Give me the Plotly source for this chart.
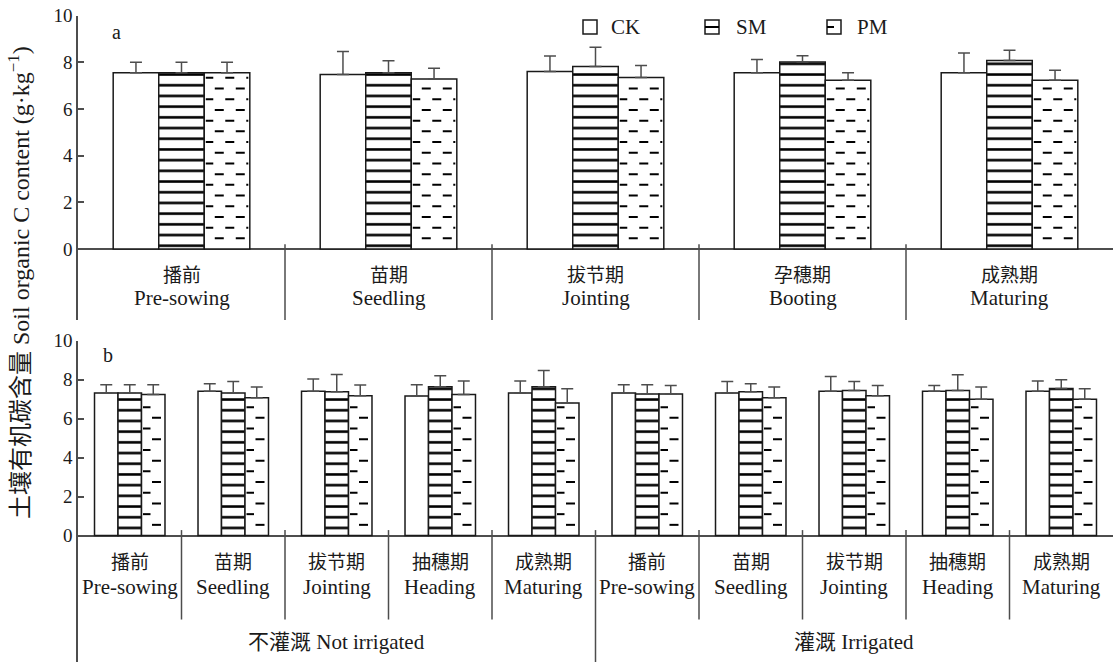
import plotly.graph_objects as go

# ---------------- data ----------------
top_cn = ["播前", "苗期", "拔节期", "孕穗期", "成熟期"]
top_en = ["Pre-sowing", "Seedling", "Jointing", "Booting", "Maturing"]
bot_cn = ["播前", "苗期", "拔节期", "抽穗期", "成熟期"] * 2
bot_en = ["Pre-sowing", "Seedling", "Jointing", "Heading", "Maturing"] * 2
treatments = ["CK", "SM", "PM"]
irrigation = ["不灌溉 Not irrigated", "灌溉 Irrigated"]

top_ck = [7.56, 7.48, 7.61, 7.55, 7.55]
top_ck_sd = [0.45, 0.99, 0.66, 0.57, 0.85]
top_sm = [7.56, 7.56, 7.82, 8.02, 8.08]
top_sm_sd = [0.44, 0.51, 0.83, 0.26, 0.44]
top_pm = [7.56, 7.29, 7.35, 7.23, 7.23]
top_pm_sd = [0.44, 0.46, 0.52, 0.33, 0.43]

bot_ck = [7.31, 7.40, 7.40, 7.16, 7.31, 7.31, 7.31, 7.40, 7.40, 7.40]
bot_ck_sd = [0.43, 0.39, 0.63, 0.58, 0.62, 0.43, 0.60, 0.76, 0.30, 0.53]
bot_sm = [7.31, 7.31, 7.38, 7.64, 7.64, 7.26, 7.38, 7.45, 7.45, 7.55]
bot_sm_sd = [0.43, 0.60, 0.89, 0.56, 0.83, 0.48, 0.41, 0.46, 0.80, 0.45]
bot_pm = [7.24, 7.07, 7.18, 7.24, 6.80, 7.26, 7.07, 7.18, 6.99, 6.99]
bot_pm_sd = [0.50, 0.55, 0.54, 0.69, 0.73, 0.44, 0.55, 0.52, 0.63, 0.54]

# ---------------- layout constants ----------------
W, H = 1113, 662
ML = 78
PW = W - ML
FONT = "Liberation Serif, 'Noto Sans CJK SC', serif"
INK = "#1a1a1a"
AXC = "#4d4d4d"

top_dom = [(H - 320) / H, (H - 15.7) / H]
top_rng = [-3.04, 10]
bot_dom = [0.0, (H - 340.7) / H]
bot_rng = [-6.49, 10]

fig = go.Figure()


def px_per_y(dom, rng):
    return (dom[1] - dom[0]) * H / (rng[1] - rng[0])


def panel(xa, ya, n, w, ck, cks, sm, sms, pm, pms, dom, rng):
    xs = list(range(n))
    series = [(ck, cks, ""), (sm, sms, "-"), (pm, pms, "")]
    for k, (vals, sds, shape) in enumerate(series):
        fig.add_trace(go.Bar(
            x=xs, y=vals, width=w, offset=-1.5 * w + k * w,
            xaxis=xa, yaxis=ya, name=treatments[k], showlegend=False,
            marker=dict(color="white", line=dict(color=INK, width=1.5),
                        pattern=dict(shape=shape, size=10.7, solidity=0.24,
                                     fgcolor="#000000", bgcolor="white",
                                     fgopacity=1)),
            error_y=dict(type="data", array=sds, arrayminus=[0] * n,
                         symmetric=False, color=AXC, thickness=1.5, width=6),
            hoverinfo="skip",
        ))
    # dashed-line fill for PM, computed from bar geometry
    pxx = PW / n
    pxy = px_per_y(dom, rng)
    sp = 10.7 / pxy
    period = 21 / pxx
    dash = 9 / pxx
    pad = 1.5 / pxx
    X, Y = [], []
    for i, v in enumerate(pm):
        xl = i + 0.5 * w
        xr = i + 1.5 * w
        r = 1
        while r * sp < v - 2.5 / pxy:
            yk = r * sp
            off = (r % 2) * period / 2
            s = xl + off - period
            while s < xr:
                a = max(s, xl + pad)
                b = min(s + dash, xr - pad)
                if b - a > 1 / pxx:
                    X += [a, b, None]
                    Y += [yk, yk, None]
                s += period
            r += 1
    fig.add_trace(go.Scatter(x=X, y=Y, mode="lines", xaxis=xa, yaxis=ya,
                             line=dict(color="#000000", width=2), showlegend=False,
                             hoverinfo="skip", connectgaps=False))


panel("x", "y", 5, 0.22, top_ck, top_ck_sd, top_sm, top_sm_sd, top_pm, top_pm_sd,
      top_dom, top_rng)
panel("x2", "y2", 10, 0.227, bot_ck, bot_ck_sd, bot_sm, bot_sm_sd, bot_pm, bot_pm_sd,
      bot_dom, bot_rng)

yax = dict(showline=True, linecolor=AXC, linewidth=1.5, ticks="inside",
           tickvals=[0, 2, 4, 6, 8, 10], ticklen=6, tickwidth=1.5, tickcolor=AXC,
           showgrid=False, zeroline=True, zerolinecolor=AXC, zerolinewidth=1.5,
           automargin=False,
           tickfont=dict(size=19, color=INK, family=FONT))
fig.update_layout(
    width=W, height=H, autosize=False,
    margin=dict(l=ML, r=0, t=0, b=0, pad=0),
    plot_bgcolor="white", paper_bgcolor="white",
    barmode="overlay",
    font=dict(family=FONT, size=19, color=INK),
    xaxis=dict(domain=[0, 1], range=[-0.5, 4.5], visible=False, anchor="y"),
    yaxis=dict(domain=top_dom, range=top_rng, anchor="x", **yax),
    xaxis2=dict(domain=[0, 1], range=[-0.5, 9.5], visible=False, anchor="y2"),
    yaxis2=dict(domain=bot_dom, range=bot_rng, anchor="x2", **yax),
    showlegend=False,
)


def pxx_(px):
    return (px - ML) / PW


def pyy_(py):
    return (H - py) / H


shapes = []
for i in range(4):
    shapes.append(dict(type="line", xref="x", yref="y", x0=i + 0.5, x1=i + 0.5,
                       y0=0.21, y1=top_rng[0], line=dict(color=AXC, width=1.5)))
for i in range(9):
    y1 = bot_rng[0] if i == 4 else -4.31
    shapes.append(dict(type="line", xref="x2", yref="y2", x0=i + 0.5, x1=i + 0.5,
                       y0=0.28, y1=y1, line=dict(color=AXC, width=1.5)))

# legend (drawn manually to mimic the original key)
leg_box_x = [583, 705, 827]
leg_txt_x = [609, 734, 855]
for k in range(3):
    x0 = leg_box_x[k]
    shapes.append(dict(type="rect", xref="paper", yref="paper",
                       x0=pxx_(x0), x1=pxx_(x0 + 14), y0=pyy_(34), y1=pyy_(20),
                       line=dict(color=INK, width=1.5), fillcolor="white"))
    if k == 1:
        shapes.append(dict(type="line", xref="paper", yref="paper",
                           x0=pxx_(x0), x1=pxx_(x0 + 14), y0=pyy_(27), y1=pyy_(27),
                           line=dict(color="#000", width=2)))
    if k == 2:
        shapes.append(dict(type="line", xref="paper", yref="paper",
                           x0=pxx_(x0), x1=pxx_(x0 + 7), y0=pyy_(27), y1=pyy_(27),
                           line=dict(color="#000", width=2)))
fig.update_layout(shapes=shapes)

ann = []
for k in range(3):
    ann.append(dict(x=pxx_(leg_txt_x[k]), y=pyy_(27.5), xref="paper", yref="paper",
                    xanchor="left", yanchor="middle", showarrow=False,
                    text=treatments[k], font=dict(size=21)))

pt = px_per_y(top_dom, top_rng)
pb = px_per_y(bot_dom, bot_rng)
for i in range(5):
    ann.append(dict(x=i, y=(249 - 275) / pt, xref="x", yref="y", showarrow=False,
                    yanchor="middle", text=top_cn[i], font=dict(size=19)))
    ann.append(dict(x=i, y=(249 - 298) / pt, xref="x", yref="y", showarrow=False,
                    yanchor="middle", text=top_en[i], font=dict(size=21)))
for i in range(10):
    ann.append(dict(x=i, y=(535.5 - 562) / pb, xref="x2", yref="y2", showarrow=False,
                    yanchor="middle", text=bot_cn[i], font=dict(size=19)))
    ann.append(dict(x=i, y=(535.5 - 587) / pb, xref="x2", yref="y2", showarrow=False,
                    yanchor="middle", text=bot_en[i], font=dict(size=21)))
ann.append(dict(x=2.0, y=pyy_(642), xref="x2", yref="paper", showarrow=False,
                yanchor="middle", text=irrigation[0], font=dict(size=21)))
ann.append(dict(x=7.0, y=pyy_(642), xref="x2", yref="paper", showarrow=False,
                yanchor="middle", text=irrigation[1], font=dict(size=21)))
ann.append(dict(x=-0.312, y=(249 - 32) / pt, xref="x", yref="y", showarrow=False,
                text="a", font=dict(size=20)))
ann.append(dict(x=-0.21, y=(535.5 - 355) / pb, xref="x2", yref="y2", showarrow=False,
                text="b", font=dict(size=20)))
ann.append(dict(x=pxx_(19), y=pyy_(283), xref="paper", yref="paper",
                xanchor="center", yanchor="middle",
                showarrow=False, textangle=-90,
                text="土壤有机碳含量 Soil organic C content (g·kg<sup>−1</sup>)",
                font=dict(size=24)))
fig.update_layout(annotations=ann)

fig.write_html("out.html", config={"displayModeBar": False},
               post_script="document.body.style.margin='0';")
